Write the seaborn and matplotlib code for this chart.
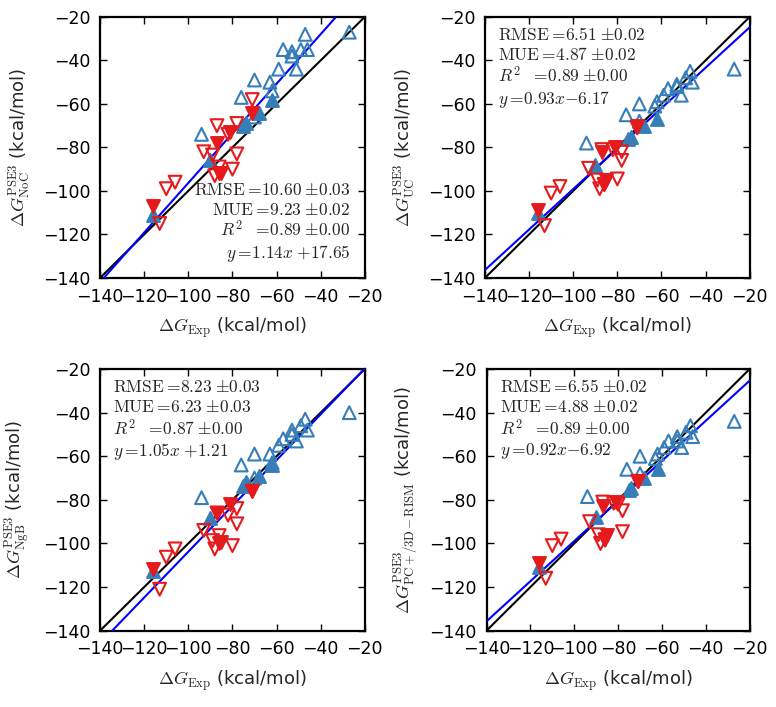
import numpy as np
import pandas as pd
import matplotlib
matplotlib.use('Agg')
import matplotlib.pyplot as plt
import seaborn as sns

# 実験値 (kcal/mol)
x_blue_open = [-27, -47, -46, -49, -53, -53, -51, -57, -59, -63, -70, -62, -76, -70, -94]
x_blue_fill = [-62, -68, -74, -75, -90, -116]
x_red_open = [-71, -87, -78, -82, -93, -89, -78, -86, -80, -88, -106, -110, -113]
x_red_fill = [-71, -81, -87, -85, -86, -116]

# 計算値 (NoC, UC, NgB, PC+/3D-RISM)
y_noc_blue_open = [-27, -28, -35, -35, -36, -38, -44, -35, -44, -50, -49, -54, -57, -66, -74]
y_noc_blue_fill = [-58, -64, -69, -70, -86, -111]
y_noc_red_open = [-58, -70, -69, -74, -82, -83.5, -83, -89, -90, -93, -96, -99, -115]
y_noc_red_fill = [-64, -73, -78, -92, -92, -107]

y_uc_blue_open = [-44, -45, -50, -48, -51, -52, -56, -53, -56, -61, -60, -59, -65, -68, -78]
y_uc_blue_fill = [-67, -70, -75, -76, -88, -110]
y_uc_red_open = [-71, -81, -82, -81, -89.6, -95, -86, -97, -94.5, -99, -98, -101, -116]
y_uc_red_fill = [-70, -80, -82, -95, -97, -109]

y_ngb_blue_open = [-40, -43, -48, -46, -48, -50, -53, -52, -55, -59, -59, -63, -64, -70, -79]
y_ngb_blue_fill = [-64, -69, -72, -73.5, -88.5, -112.5]
y_ngb_red_open = [-76, -86, -84, -87, -94, -98.7, -91, -96.4, -101, -102.5, -102.5, -106.3, -121]
y_ngb_red_fill = [-76, -82, -86, -99.5, -100, -111.7]

y_pc_blue_open = [-44, -46, -51, -49, -51, -53, -56, -53, -56, -61, -60, -59, -66, -68, -78.5]
y_pc_blue_fill = [-66, -70, -74.6, -75.5, -87.7, -110.8]
y_pc_red_open = [-71.5, -81, -85, -81.5, -90, -96, -94.6, -98.5, -82, -100, -98, -101, -116]
y_pc_red_fill = [-71.5, -81, -83, -96, -98, -109]

# 回帰直線と統計量
slopes = [1.14, 0.93, 1.05, 0.92]
intercepts = [17.65, -6.17, 1.21, -6.92]
rmse = ['10.60', '6.51', '8.23', '6.55']
rmse_err = ['0.03', '0.02', '0.03', '0.02']
mue = ['9.23', '4.87', '6.23', '4.88']
mue_err = ['0.02', '0.02', '0.03', '0.02']
r2 = ['0.89', '0.89', '0.87', '0.89']
fit_texts = [r'1.14x\;{+}17.65', r'0.93x{-}6.17', r'1.05x\;{+}1.21', r'0.92x{-}6.92']
ylabels = [r'$\Delta G_{\mathrm{NoC}}^{\mathrm{PSE3}}$ (kcal/mol)',
           r'$\Delta G_{\mathrm{UC}}^{\mathrm{PSE3}}$ (kcal/mol)',
           r'$\Delta G_{\mathrm{NgB}}^{\mathrm{PSE3}}$ (kcal/mol)',
           r'$\Delta G_{\mathrm{PC+/3D-RISM}}^{\mathrm{PSE3}}$ (kcal/mol)']
xlabel = r'$\Delta G_{\mathrm{Exp}}$ (kcal/mol)'
ticks = [-140, -120, -100, -80, -60, -40, -20]

panels_y = [
    (y_noc_blue_open, y_noc_blue_fill, y_noc_red_open, y_noc_red_fill),
    (y_uc_blue_open, y_uc_blue_fill, y_uc_red_open, y_uc_red_fill),
    (y_ngb_blue_open, y_ngb_blue_fill, y_ngb_red_open, y_ngb_red_fill),
    (y_pc_blue_open, y_pc_blue_fill, y_pc_red_open, y_pc_red_fill),
]

sns.set_style('ticks')
plt.rcParams.update({
    'mathtext.fontset': 'cm',
    'xtick.direction': 'in', 'ytick.direction': 'in',
    'xtick.top': True, 'ytick.right': True,
    'xtick.major.size': 5, 'ytick.major.size': 5,
    'xtick.major.width': 1.0, 'ytick.major.width': 1.0,
    'xtick.major.pad': 7, 'ytick.major.pad': 7,
    'axes.linewidth': 1.6,
    'axes.edgecolor': 'black',
    'xtick.color': 'black', 'ytick.color': 'black',
    'font.size': 13,
    'xtick.labelsize': 12.5, 'ytick.labelsize': 12.5,
})
plt.rcParams['font.family'] = ['DejaVu Sans']

BLUE = '#377eb8'
RED = '#e41a1c'

fig = plt.figure(figsize=(7.76, 7.07), dpi=100)
boxes = [[0.129, 0.607, 0.341, 0.369],
         [0.625, 0.607, 0.341, 0.369],
         [0.129, 0.108, 0.341, 0.370],
         [0.627, 0.108, 0.339, 0.370]]

xline = np.array([-140, -20])

for i, box in enumerate(boxes):
    ax = fig.add_axes(box)
    ybo, ybf, yro, yrf = panels_y[i]
    ax.plot(xline, xline, color='black', lw=1.5, zorder=3)
    ax.plot(xline, slopes[i] * xline + intercepts[i], color='blue', lw=1.5, zorder=3)
    sns.scatterplot(x=x_blue_open, y=ybo, marker='^', s=85, facecolor='none',
                    edgecolor=BLUE, linewidth=1.5, ax=ax, zorder=4)
    sns.scatterplot(x=x_blue_fill, y=ybf, marker='^', s=85, color=BLUE,
                    edgecolor=BLUE, linewidth=1.5, ax=ax, zorder=4)
    sns.scatterplot(x=x_red_open, y=yro, marker='v', s=85, facecolor='none',
                    edgecolor=RED, linewidth=1.5, ax=ax, zorder=4)
    sns.scatterplot(x=x_red_fill, y=yrf, marker='v', s=85, color=RED,
                    edgecolor=RED, linewidth=1.5, ax=ax, zorder=4)
    ax.set_xlim(-140, -20)
    ax.set_ylim(-140, -20)
    ax.set_xticks(ticks)
    ax.set_yticks(ticks)
    ax.set_xlabel(xlabel, fontsize=13, labelpad=7)
    ax.set_ylabel(ylabels[i], fontsize=13, labelpad=7)
    lines = [r'$\mathrm{RMSE}=\!%s\;{\pm}%s$' % (rmse[i], rmse_err[i]),
             r'$\mathrm{MUE}=\!%s\;{\pm}%s$' % (mue[i], mue_err[i]),
             r'$R^2\ \ =\!%s\;{\pm}0.00$' % r2[i],
             r'$y=\!%s$' % fit_texts[i]]
    txt = '\n'.join(lines)
    if i == 0:
        ax.text(0.945, 0.055, txt, transform=ax.transAxes, ha='right', va='bottom',
                fontsize=12.5, linespacing=1.12, multialignment='right')
    else:
        ax.text(0.05, 0.965, txt, transform=ax.transAxes, ha='left', va='top',
                fontsize=12.5, linespacing=1.15, multialignment='left')

fig.savefig('out.png', dpi=100)
